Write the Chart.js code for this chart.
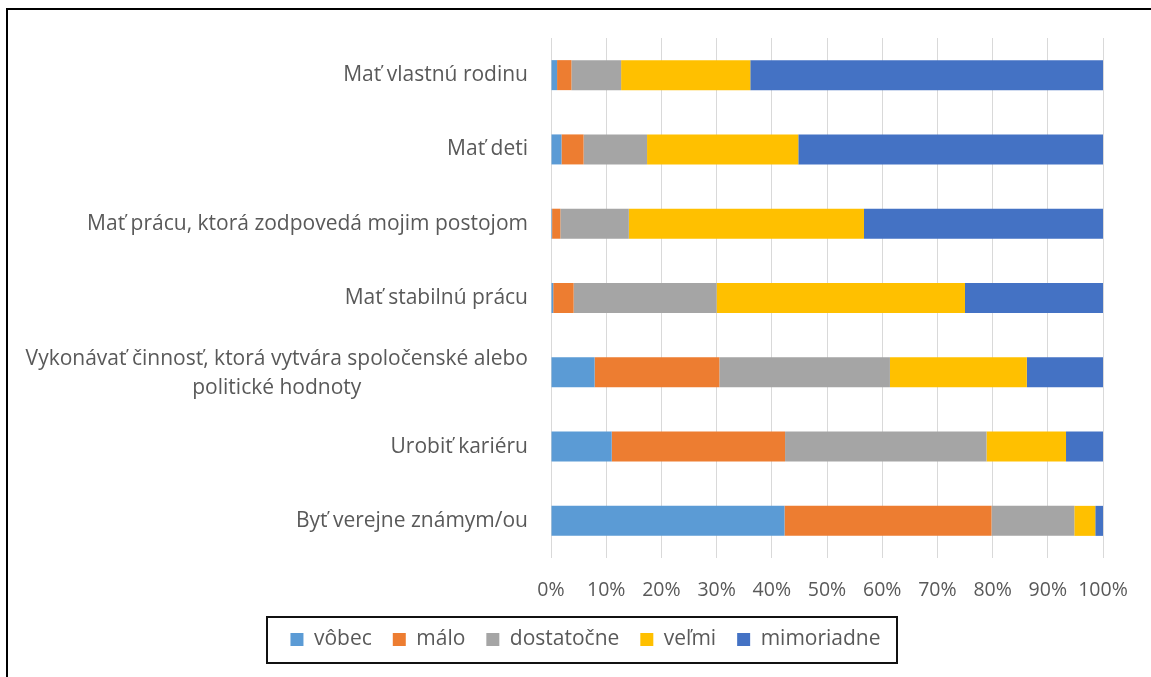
<!DOCTYPE html>
<html lang="sk">
  <head>
    <meta charset="UTF-8" />
    <title>Hodnoty</title>
    <script src="https://cdn.jsdelivr.net/npm/chart.js"></script>
    <style>
      html, body { margin: 0; padding: 0; background: #fff; }
      .wrap { position: relative; width: 1151px; height: 677px; overflow: hidden; }
      .frame {
        position: absolute; left: 6px; top: 8px; width: 1200px; height: 700px;
        border-left: 2px solid #000; border-top: 2px solid #000;
        box-sizing: border-box; pointer-events: none;
      }
      canvas { position: absolute; left: 0; top: 0; }
    </style>
  </head>
  <body>
    <div class="wrap">
      <canvas id="chart" width="1151" height="677"></canvas>
      <div class="frame"></div>
    </div>

    <script>
      // data (percent of respondents)
      const categories = [
        "Mať vlastnú rodinu",
        "Mať deti",
        "Mať prácu, ktorá zodpovedá mojim postojom",
        "Mať stabilnú prácu",
        ["Vykonávať činnosť, ktorá vytvára spoločenské alebo", "politické hodnoty"],
        "Urobiť kariéru",
        "Byť verejne známym/ou",
      ];
      const seriesNames = ["vôbec", "málo", "dostatočne", "veľmi", "mimoriadne"];
      const vobec      = [1.1, 1.9, 0.2, 0.4, 7.9, 11.0, 42.3];
      const malo       = [2.6, 4.0, 1.5, 3.7, 22.6, 31.4, 37.5];
      const dostatocne = [9.0, 11.5, 12.4, 25.9, 30.9, 36.5, 15.0];
      const velmi      = [23.4, 27.4, 42.6, 45.0, 24.8, 14.4, 3.8];
      const mimoriadne = [63.9, 55.2, 43.3, 25.0, 13.8, 6.7, 1.4];
      const xTicks = [0, 10, 20, 30, 40, 50, 60, 70, 80, 90, 100];

      const colors = ["#5b9bd5", "#ed7d31", "#a5a5a5", "#ffc000", "#4472c4"];
      const values = [vobec, malo, dostatocne, velmi, mimoriadne];
      const textColor = "#595959";
      const font = '"Open Sans", sans-serif';

      // category labels drawn by hand so the two-line one is centred like in Excel
      const yLabels = {
        id: "yLabels",
        afterDraw(chart) {
          const ctx = chart.ctx;
          const y = chart.scales.y;
          const right = chart.chartArea.left - 23;
          ctx.save();
          ctx.font = "21px " + font;
          ctx.fillStyle = textColor;
          ctx.textBaseline = "middle";
          categories.forEach((lab, i) => {
            const yc = y.getPixelForTick(i);
            if (Array.isArray(lab)) {
              const w = Math.max(...lab.map((l) => ctx.measureText(l).width));
              ctx.textAlign = "center";
              lab.forEach((l, j) => {
                ctx.fillText(l, right - w / 2, yc + 1 + (j - (lab.length - 1) / 2) * 29);
              });
            } else {
              ctx.textAlign = "right";
              ctx.fillText(lab, right, yc);
            }
          });
          ctx.restore();
        },
      };

      // box around the legend
      const legendBox = {
        id: "legendBox",
        afterDraw(chart) {
          const hb = chart.legend.legendHitBoxes;
          if (!hb || !hb.length) return;
          const ctx = chart.ctx;
          const l = Math.min(...hb.map((h) => h.left)) - 23;
          const r = Math.max(...hb.map((h) => h.left + h.width)) + 17;
          const c = hb[0].top + hb[0].height / 2;
          ctx.save();
          ctx.strokeStyle = "#111";
          ctx.lineWidth = 2;
          ctx.strokeRect(Math.round(l), Math.round(c - 23), Math.round(r - l), 46);
          ctx.restore();
        },
      };

      new Chart(document.getElementById("chart").getContext("2d"), {
        type: "bar",
        data: {
          labels: categories,
          datasets: seriesNames.map((name, i) => ({
            label: name,
            data: values[i],
            backgroundColor: colors[i],
            borderWidth: 0,
            barPercentage: 0.404,
            categoryPercentage: 1,
          })),
        },
        options: {
          indexAxis: "y",
          responsive: false,
          animation: false,
          layout: { padding: { left: 68, right: 48, top: 38, bottom: 17 } },
          scales: {
            x: {
              stacked: true,
              min: 0,
              max: 100,
              afterBuildTicks: (s) => { s.ticks = xTicks.map((v) => ({ value: v })); },
              afterFit: (s) => { s.height = 50; },
              grid: { color: "#d9d9d9", lineWidth: 1, drawTicks: false },
              border: { display: false },
              ticks: {
                color: textColor,
                font: { family: font, size: 19.5 },
                padding: 21,
                maxRotation: 0,
                minRotation: 0,
                autoSkip: false,
                callback: (v) => v + "%",
              },
            },
            y: {
              stacked: true,
              afterFit: (s) => { s.width = 483; },
              grid: { display: false },
              border: { display: false },
              ticks: { display: false },
            },
          },
          plugins: {
            legend: {
              position: "bottom",
              labels: {
                color: textColor,
                font: { family: font, size: 21 },
                boxWidth: 13,
                boxHeight: 13,
                padding: 21,
              },
            },
            tooltip: { enabled: false },
          },
        },
        plugins: [yLabels, legendBox],
      });
    </script>
  </body>
</html>
